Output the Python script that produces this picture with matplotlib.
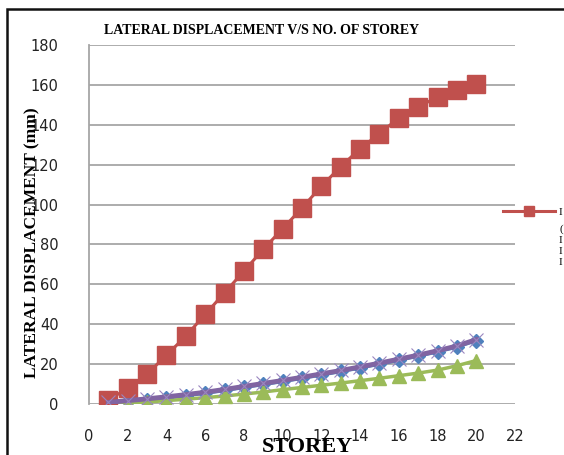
import matplotlib.pyplot as plt
from matplotlib.patches import Rectangle

storey = list(range(1, 21))

# values (mm)
red_disp = [2.0, 7.9, 15.1, 24.4, 34.1, 44.9, 55.8, 66.6, 77.6, 87.9,
            98.3, 109.2, 119.0, 128.0, 135.6, 143.4, 149.1, 153.8, 157.6, 160.2]
blue_disp = [0.5, 1.3, 2.2, 3.1, 4.2, 5.4, 6.8, 8.3, 9.8, 11.3,
             12.9, 14.6, 16.3, 18.1, 20.0, 22.0, 24.0, 26.2, 28.6, 31.8]
green_disp = [0.0, 0.5, 1.0, 1.7, 2.4, 3.2, 4.0, 5.0, 6.0, 7.2,
              8.3, 9.4, 10.5, 11.7, 12.9, 14.2, 15.5, 17.0, 19.2, 21.8]
purple_disp = [0.8, 1.7, 2.6, 3.6, 4.7, 5.9, 7.3, 8.8, 10.3, 11.8,
               13.4, 15.1, 16.8, 18.6, 20.5, 22.5, 24.5, 26.7, 29.1, 32.3]

x_ticks = list(range(0, 23, 2))
y_ticks = list(range(0, 181, 20))

serif = "Liberation Serif"
grid_grey = "#a6a6a6"

fig = plt.figure(figsize=(5.64, 4.55), dpi=100)
ax = fig.add_axes([89 / 564, 1 - 404 / 455, 426 / 564, 359 / 455])

ax.plot(storey, blue_disp, color="#4F81BD", lw=2.5, marker="D", ms=7,
        zorder=3)
red_line, = ax.plot(storey, red_disp, color="#C0504D", lw=2.2, marker="s",
                    ms=13, zorder=4)
ax.plot(storey, green_disp, color="#9BBB59", lw=2.5, marker="^", ms=10,
        zorder=3)
ax.plot(storey, purple_disp, color="#8064A2", lw=3.5, marker="x", ms=10,
        mew=0.8, mec="#9a86c0", zorder=5)

ax.set_xlim(0, 22)
ax.set_ylim(0, 180)
ax.set_xticks(x_ticks)
ax.set_yticks(y_ticks)
ax.yaxis.grid(True, color=grid_grey, lw=1.3)
ax.set_axisbelow(True)
for side in ["top", "right", "bottom"]:
    ax.spines[side].set_visible(False)
ax.spines["left"].set_color(grid_grey)
ax.spines["left"].set_linewidth(1.3)
ax.tick_params(length=0, labelsize=10.5, colors="#222222")
ax.tick_params(axis="y", pad=22)
ax.tick_params(axis="x", pad=18)

fig.text(262 / 564, 1 - 31 / 455, "LATERAL DISPLACEMENT V/S NO. OF STOREY",
         family=serif, weight="bold", fontsize=10, ha="center", va="center")
fig.text(32 / 564, 1 - 243 / 455, "LATERAL DISPLACEMENT (mm)",
         family=serif, weight="bold", fontsize=12.5, rotation=90,
         ha="center", va="center")
fig.text(307 / 564, 1 - 447 / 455, "STOREY", family=serif, weight="bold",
         fontsize=16, ha="center", va="center")

# legend, cut off by the right edge of the picture
ax.legend([red_line], ["I"], loc="center left",
          bbox_to_anchor=(503 / 564, 1 - 212 / 455),
          bbox_transform=fig.transFigure, frameon=False,
          prop={"family": serif, "size": 8}, handlelength=4.7,
          handletextpad=0.3, borderpad=0, borderaxespad=0, markerscale=0.6)
fig.text(559 / 564, 1 - 224 / 455, "(\nI\nI\nI", family=serif, fontsize=8,
         ha="left", va="top", linespacing=1.3)

fig.patches.append(Rectangle((7 / 564, -0.1), 1.2, (1 - 9 / 455) + 0.1,
                             transform=fig.transFigure, fill=False,
                             edgecolor="#111111", lw=1.8))

fig.savefig("out.png", dpi=100)
